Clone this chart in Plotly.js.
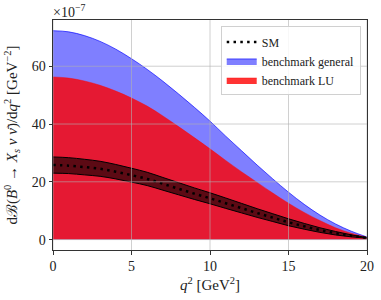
<!DOCTYPE html>
<html>
<head>
<meta charset="utf-8">
<script src="https://cdn.plot.ly/plotly-3.0.1.min.js"></script>
<style>html,body{margin:0;padding:0;background:#fff;}#chart{width:381px;height:300px;}</style>
</head>
<body>
<div id="chart"></div>
<script>
// q^2 grid [GeV^2]
const q2 = [0,1,2,3,4,5,6,7,8,9,10,11,12,13,14,15,16,17,18,19,20];
// values in units of 1e-7 GeV^-2
const benchmarkGeneral = [72.3,71.9,70.6,68.6,65.9,62.6,58.9,54.8,50.4,45.8,41.0,35.8,30.8,25.8,21.0,16.4,12.2,8.5,5.4,2.9,0.9];
const benchmarkLU = [56.3,55.9,54.9,53.4,51.4,49.0,46.2,42.8,39.1,35.3,31.4,27.4,23.5,19.8,16.1,12.6,9.4,6.6,4.1,2.2,0.8];
const smCentral = [25.8,25.6,25.1,24.5,23.5,22.3,21.0,19.3,17.6,15.9,14.3,12.6,10.9,9.2,7.6,6.0,4.6,3.3,2.2,1.3,0.6];
const smUpper = [28.6,28.35,27.8,27.1,26.0,24.7,23.3,21.5,19.7,17.9,16.2,14.4,12.55,10.7,8.95,7.2,5.6,4.1,2.8,1.65,0.7];
const smLower = [23.0,22.85,22.4,21.9,21.0,19.9,18.7,17.1,15.5,13.9,12.4,10.8,9.25,7.7,6.25,4.8,3.6,2.5,1.6,0.95,0.5];
const xTicks = [0,5,10,15,20];
const yTicks = [0,20,40,60];

const FONT = "Liberation Serif, DejaVu Serif, serif";

const traces = [
  {x:q2, y:benchmarkGeneral, type:'scatter', mode:'lines', name:'benchmark general',
   fill:'tozeroy', fillcolor:'rgba(0,0,255,0.5)', line:{color:'rgba(0,0,255,0.65)', width:1, shape:'spline'}, legendrank:2},
  {x:q2, y:benchmarkLU, type:'scatter', mode:'lines', name:'benchmark LU',
   fill:'tozeroy', fillcolor:'rgba(255,0,0,0.8)', line:{color:'rgba(255,0,0,0.8)', width:0.5, shape:'spline'}, legendrank:3},
  {x:q2, y:smLower, type:'scatter', mode:'lines', showlegend:false,
   line:{color:'#000', width:1, shape:'spline'}},
  {x:q2, y:smUpper, type:'scatter', mode:'lines', showlegend:false,
   fill:'tonexty', fillcolor:'rgba(0,0,0,0.6)', line:{color:'#000', width:1, shape:'spline'}},
  {x:q2, y:smCentral, type:'scatter', mode:'lines', name:'SM',
   line:{color:'#000', width:2.5, dash:'2.5px,4.3px', shape:'spline'}, legendrank:1}
];

const gridColor = 'rgba(176,176,176,0.6)';
const shapes = [];
xTicks.forEach(v => shapes.push({type:'line', xref:'x', yref:'paper', x0:v, x1:v, y0:0, y1:1, layer:'above', line:{color:gridColor, width:1}}));
yTicks.forEach(v => shapes.push({type:'line', xref:'paper', yref:'y', x0:0, x1:1, y0:v, y1:v, layer:'above', line:{color:gridColor, width:1}}));

const axisCommon = {
  showgrid:false, zeroline:false, showline:true, mirror:true, linecolor:'#333', linewidth:1,
  ticks:'outside', ticklen:3.5, tickwidth:1, tickcolor:'#333',
  tickfont:{family:FONT, size:14, color:'#222'}
};

const layout = {
  width:381, height:300,
  margin:{l:53, r:14, t:20, b:50},
  paper_bgcolor:'#fff', plot_bgcolor:'#fff',
  font:{family:FONT, color:'#222'},
  xaxis:Object.assign({}, axisCommon, {
    range:[0,20], tickvals:xTicks, ticktext:xTicks.map(String),
    title:{text:'<i>q</i><sup>2</sup> [GeV<sup>2</sup>]', font:{family:FONT, size:15, color:'#222'}, standoff:6}
  }),
  yaxis:Object.assign({}, axisCommon, {
    range:[-3.6,76], tickvals:yTicks, ticktext:yTicks.map(String),
    title:{text:'dℬ(<i>B</i><sup>0</sup> → <i>X</i><sub><i>s</i></sub> <i>ν</i> <i>ν̄</i>)/d<i>q</i><sup>2</sup> [GeV<sup>−2</sup>]', font:{family:FONT, size:15, color:'#222'}, standoff:10}
  }),
  shapes:shapes,
  annotations:[{xref:'paper', yref:'paper', x:0, y:1, xanchor:'left', yanchor:'bottom', showarrow:false,
    text:'×10<sup>−7</sup>', font:{family:FONT, size:14, color:'#222'}, xshift:-2, yshift:-2}],
  legend:{x:0.98, y:0.972, xanchor:'right', yanchor:'top', bgcolor:'rgba(255,255,255,0.85)',
    bordercolor:'#d0d0d0', borderwidth:1, font:{family:FONT, size:12, color:'#222'},
    traceorder:'normal', tracegroupgap:0, itemwidth:30},
  showlegend:true
};

Plotly.newPlot('chart', traces, layout, {staticPlot:true, displayModeBar:false});
</script>
</body>
</html>
